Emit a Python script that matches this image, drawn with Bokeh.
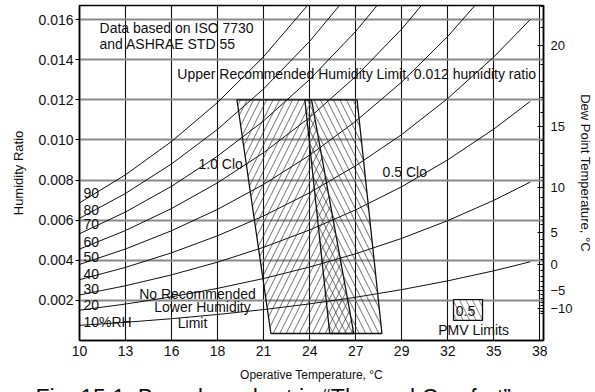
from bokeh.plotting import figure
from bokeh.models import FixedTicker, LinearAxis, Title, Range1d
from bokeh.core.properties import value
from bokeh.embed import file_html
from bokeh.resources import INLINE
import math

# ---------------- data ----------------
# operative temperature axis (deg C at 5 F steps) and printed labels
x_ticks = [10.0, 12.78, 15.56, 18.33, 21.11, 23.89, 26.67, 29.44, 32.22, 35.0, 37.78]
x_tick_labels = ["10", "13", "16", "18", "21", "24", "27", "29", "32", "35", "38"]

y_ticks = [0.002, 0.004, 0.006, 0.008, 0.010, 0.012, 0.014, 0.016]
y_tick_labels = ["0.002", "0.004", "0.006", "0.008", "0.010", "0.012", "0.014", "0.016"]

# dew point scale (humidity ratio at each dew point) and labels
dew_points = [20, 15, 10, 5, 0, -5, -10]
dew_tick_w = [0.01470, 0.01065, 0.007632, 0.005403, 0.003775, 0.002476, 0.001600]
dew_tick_labels = ["20", "15", "10", "5", "0", "\u22125", "\u221210"]

# relative humidity curves: humidity ratio read along the temperature grid
curve_t = [10.0, 12.78, 15.56, 18.33, 21.11, 23.89, 26.67, 29.44, 32.22, 35.0, 37.2]
rh_labels = ["90", "80", "70", "60", "50", "40", "30", "20", "10%RH"]
rh_90 = [0.006859, 0.008263, 0.009924, 0.011868, 0.014149, 0.016830, 0.019958]
rh_80 = [0.006090, 0.007334, 0.008805, 0.010527, 0.012545, 0.014915, 0.017677]
rh_70 = [0.005322, 0.006408, 0.007691, 0.009192, 0.010949, 0.013012, 0.015412, 0.018186]
rh_60 = [0.004556, 0.005484, 0.006581, 0.007862, 0.009362, 0.011120, 0.013164, 0.015523, 0.018275]
rh_50 = [0.003792, 0.004564, 0.005474, 0.006538, 0.007782, 0.009239, 0.010931, 0.012882, 0.015155, 0.017768]
rh_40 = [0.003030, 0.003646, 0.004372, 0.005220, 0.006210, 0.007369, 0.008715, 0.010263, 0.012065, 0.014133, 0.015996]
rh_30 = [0.002270, 0.002730, 0.003273, 0.003906, 0.004646, 0.005511, 0.006513, 0.007666, 0.009005, 0.010540, 0.011920]
rh_20 = [0.001511, 0.001817, 0.002178, 0.002599, 0.003090, 0.003663, 0.004327, 0.005090, 0.005975, 0.006987, 0.007896]
rh_10 = [0.000755, 0.000907, 0.001087, 0.001297, 0.001541, 0.001826, 0.002156, 0.002535, 0.002973, 0.003474, 0.003923]
rh_curves = [rh_90, rh_80, rh_70, rh_60, rh_50, rh_40, rh_30, rh_20, rh_10]

# comfort zones (PMV -0.5..+0.5), corners: operative temp, humidity ratio
winter_t = [19.5, 24.0, 26.55, 21.55]
winter_w = [0.012, 0.012, 0.00035, 0.00035]
summer_t = [23.6, 26.75, 28.25, 25.1]
summer_w = [0.012, 0.012, 0.00035, 0.00035]

legend_box_t = [32.57, 34.32]
legend_box_w = [0.00100, 0.00204]

caption = "Fig. 15.1: Based on chart in \u201cThermal Comfort\u201d"

# ---------------- figure ----------------
FONT = "Liberation Sans"

p = figure(frame_width=464, frame_height=335, x_range=Range1d(10, 38.0), y_range=Range1d(0, 0.0167),
           output_backend="svg", toolbar_location=None,
           min_border_left=79, min_border_right=52, min_border_top=5, min_border_bottom=52)
p.outline_line_color = "black"
p.outline_line_width = 1.5
p.background_fill_color = "white"
p.border_fill_color = "white"

# bottom axis
xa = p.xaxis[0]
xa.ticker = FixedTicker(ticks=x_ticks, minor_ticks=[])
xa.major_label_overrides = {t: l for t, l in zip(x_ticks, x_tick_labels)}
xa.major_tick_in = 0
xa.major_tick_out = 0
xa.axis_line_color = "black"
xa.axis_line_width = 1.5
xa.major_label_text_font = FONT
xa.major_label_text_font_size = "14px"
xa.major_label_text_color = "#111111"
xa.major_label_standoff = 5
xa.axis_label = "Operative Temperature, \u00b0C"
xa.axis_label_text_font = FONT
xa.axis_label_text_font_size = "12px"
xa.axis_label_text_font_style = "normal"
xa.axis_label_text_color = "#111111"
xa.axis_label_standoff = 9

# left axis
ya = p.yaxis[0]
ya.ticker = FixedTicker(ticks=y_ticks, minor_ticks=[])
ya.major_label_overrides = {t: l for t, l in zip(y_ticks, y_tick_labels)}
ya.major_tick_in = 0
ya.major_tick_out = 4
ya.axis_line_color = "black"
ya.axis_line_width = 1.5
ya.major_label_text_font = FONT
ya.major_label_text_font_size = "14px"
ya.major_label_text_color = "#111111"
ya.major_label_standoff = 2
ya.axis_label = "Humidity Ratio"
ya.axis_label_text_font = FONT
ya.axis_label_text_font_size = "13px"
ya.axis_label_text_font_style = "normal"
ya.axis_label_text_color = "#111111"
ya.axis_label_standoff = 9

# right dew point axis: minor ticks every 1 C dew point
def w_at_dew(td):
    if td >= 0:
        pw = 0.61094 * math.exp(17.625 * td / (td + 243.04))
    else:
        pw = 0.61115 * math.exp(22.452 * td / (td + 272.55))
    return 0.622 * pw / (101.325 - pw)

minor_w = [w_at_dew(d) for d in range(-12, 23) if d % 5 != 0]
ra = LinearAxis(ticker=FixedTicker(ticks=dew_tick_w, minor_ticks=minor_w))
ra.major_label_overrides = {t: l for t, l in zip(dew_tick_w, dew_tick_labels)}
ra.major_tick_in = 6
ra.major_tick_out = 0
ra.minor_tick_in = 3
ra.minor_tick_out = 0
ra.axis_line_color = "black"
ra.axis_line_width = 1.5
ra.major_label_text_font = FONT
ra.major_label_text_font_size = "13px"
ra.major_label_text_color = "#111111"
ra.major_label_standoff = 7
ra.axis_label = "Dew Point Temperature, \u00b0C"
ra.axis_label_text_font = FONT
ra.axis_label_text_font_size = "13px"
ra.axis_label_text_font_style = "normal"
ra.axis_label_text_color = "#111111"
ra.axis_label_standoff = 2
p.add_layout(ra, "right")

# caption below the axis title (the page cuts it, as in the source)
cap = Title(text=caption, text_font=FONT, text_font_size="23px", text_font_style="normal",
            text_color="#111111", align="left", offset=-44, standoff=0, vertical_align="top")
p.add_layout(cap, "below")

# grids
p.xgrid.ticker = FixedTicker(ticks=x_ticks)
p.xgrid.grid_line_color = "#111111"
p.xgrid.grid_line_width = 1.1
p.ygrid.ticker = FixedTicker(ticks=y_ticks)
p.ygrid.grid_line_color = "#8a8a8a"
p.ygrid.grid_line_width = 2

# RH curves
xs = [curve_t[:len(c)] for c in rh_curves]
p.multi_line(xs=xs, ys=rh_curves, line_color="#111111", line_width=1.0)

# comfort zones
p.patch(winter_t, winter_w, fill_color=None, line_color="#111111", line_width=1.3,
        hatch_pattern="/", hatch_color="#333333", hatch_scale=13, hatch_weight=0.7)
p.patch(summer_t, summer_w, fill_color=None, line_color="#111111", line_width=1.3,
        hatch_pattern="\\", hatch_color="#333333", hatch_scale=13, hatch_weight=0.7)

# PMV legend box
p.quad(left=[legend_box_t[0]], right=[legend_box_t[1]], bottom=[legend_box_w[0]], top=[legend_box_w[1]],
       fill_color="white", line_color="#111111", line_width=1.3,
       hatch_pattern="\\", hatch_color="#555555", hatch_scale=13, hatch_weight=0.7)

def tx(texts, xsv, ysv, align="left", size="14px"):
    p.text(x=xsv, y=ysv, text=texts, text_font=value(FONT), text_font_size=size,
           text_align=align, text_baseline="middle", text_color="#111111")

# RH labels
rh_label_y = [0.00733, 0.00653, 0.00579, 0.00489, 0.00414, 0.00334, 0.00259, 0.00175, 0.00090]
tx(rh_labels, [10.24] * len(rh_labels), rh_label_y)

tx(["Data based on ISO 7730", "and ASHRAE STD 55"], [11.21, 11.21], [0.01560, 0.01476])
tx(["Upper Recommended Humidity Limit, 0.012 humidity ratio"], [37.55], [0.01331], align="right")
tx(["1.0 Clo", "0.5 Clo"], [17.18, 28.29], [0.00882, 0.00842])
tx(["No Recommended", "Lower Humidity", "Limit"], [17.12, 17.42, 16.82],
   [0.00234, 0.00169, 0.00085], align="center")
tx(["0.5"], [33.29], [0.00145], align="center")
tx(["PMV Limits"], [33.78], [0.00050], align="center")

open("out.html", "w").write(file_html(p, INLINE))
